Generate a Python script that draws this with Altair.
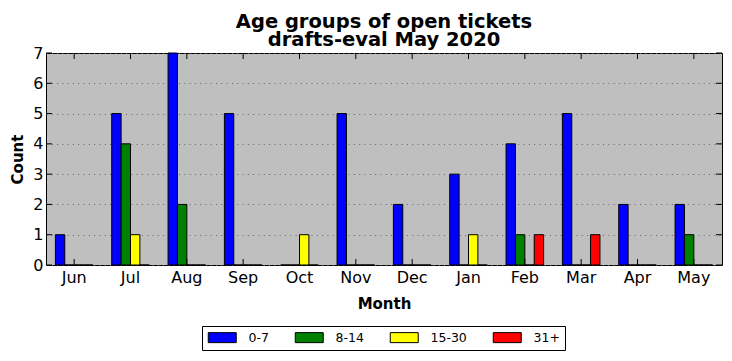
import altair as alt
import pandas as pd

months = ["Jun", "Jul", "Aug", "Sep", "Oct", "Nov", "Dec", "Jan", "Feb", "Mar", "Apr", "May"]
age_groups = ["0-7", "8-14", "15-30", "31+"]
age_0_7 = [1, 5, 7, 5, 0, 5, 2, 3, 4, 5, 2, 2]
age_8_14 = [0, 4, 2, 0, 0, 0, 0, 0, 1, 0, 0, 1]
age_15_30 = [0, 1, 0, 0, 1, 0, 0, 1, 0, 0, 0, 0]
age_31_plus = [0, 0, 0, 0, 0, 0, 0, 0, 1, 1, 0, 0]
colors = ["#0000ff", "#008000", "#ffff00", "#ff0000"]
y_ticks = [0, 1, 2, 3, 4, 5, 6, 7]

series = [age_0_7, age_8_14, age_15_30, age_31_plus]
rows = []
for g, vals in zip(age_groups, series):
    for m, v in zip(months, vals):
        rows.append({"Month": m, "Age": g, "Count": v})
df = pd.DataFrame(rows)
df_months = pd.DataFrame({"Month": months})
df_yt = pd.DataFrame({"Count": y_ticks})

W, H = 676, 212
FONT = "DejaVu Sans"

x_scale = alt.Scale(paddingInner=0, paddingOuter=0)
x_axis = alt.Axis(
    title="Month", labelAngle=0, ticks=False, domain=False, grid=False,
    labelFontSize=16, labelPadding=4, labelColor="black",
    titleFontSize=15, titleFontWeight="bold", titleColor="black",
    titleY=43, titleBaseline="alphabetic",
)
y_scale = alt.Scale(domain=[0, 7], nice=False, zero=True)
y_axis = alt.Axis(
    title="Count", values=y_ticks, ticks=False, domain=False,
    labelOverlap=False,
    grid=True, gridColor="#666666", gridWidth=1, gridDash=[1, 4.3],
    labelFontSize=16, labelPadding=3, labelColor="black",
    titleFontSize=15, titleFontWeight="bold", titleColor="black",
    titleX=-24, titleY=H / 2, titleBaseline="alphabetic", titleAngle=-90,
)


def xm():
    return alt.X("Month:N", sort=months, scale=x_scale, axis=x_axis)


def yc():
    return alt.Y("Count:Q", scale=y_scale, axis=y_axis)


bars = alt.Chart(df).mark_bar(stroke="black", strokeWidth=1).encode(
    x=xm(),
    xOffset=alt.XOffset("Age:N", sort=age_groups,
                        scale=alt.Scale(paddingInner=0, paddingOuter=1)),
    y=yc(),
    color=alt.Color("Age:N", sort=age_groups,
                    scale=alt.Scale(domain=age_groups, range=colors),
                    legend=alt.Legend(
                        title=None, orient="none", direction="horizontal",
                        legendX=156, legendY=273,
                        strokeColor="black", fillColor="white", padding=5,
                        symbolType="M-1,-1H4.6V1H-1Z", symbolSize=100,
                        symbolStrokeColor="black", symbolStrokeWidth=1,
                        labelFontSize=12.5, labelOffset=29, columnPadding=24,
                        labelColor="black",
                    )),
)

bottom_ticks = alt.Chart(df_months).mark_rule(color="black", strokeWidth=1).encode(
    x=xm(), y=alt.value(H), y2=alt.value(H - 6))
top_ticks = alt.Chart(df_months).mark_rule(color="black", strokeWidth=1).encode(
    x=xm(), y=alt.value(0), y2=alt.value(6))
left_ticks = alt.Chart(df_yt).mark_rule(color="black", strokeWidth=1).encode(
    y=yc(), x=alt.value(0), x2=alt.value(6))
right_ticks = alt.Chart(df_yt).mark_rule(color="black", strokeWidth=1).encode(
    y=yc(), x=alt.value(W), x2=alt.value(W - 6))

chart = alt.layer(bars, bottom_ticks, top_ticks, left_ticks, right_ticks).properties(
    width=W, height=H,
    autosize=alt.AutoSizeParams(type="none"),
    padding={"left": 38, "top": 45, "right": 2, "bottom": 86},
    title=alt.TitleParams(
        text=["Age groups of open tickets", "drafts-eval May 2020"],
        font=FONT, fontSize=19.5, fontWeight="bold", anchor="middle",
        lineHeight=18, offset=-5, color="black",
    ),
).configure(font=FONT).configure_view(
    fill="#bfbfbf", stroke="black", strokeWidth=1
)

chart.save("out.html", embed_options={"renderer": "svg", "actions": False})
